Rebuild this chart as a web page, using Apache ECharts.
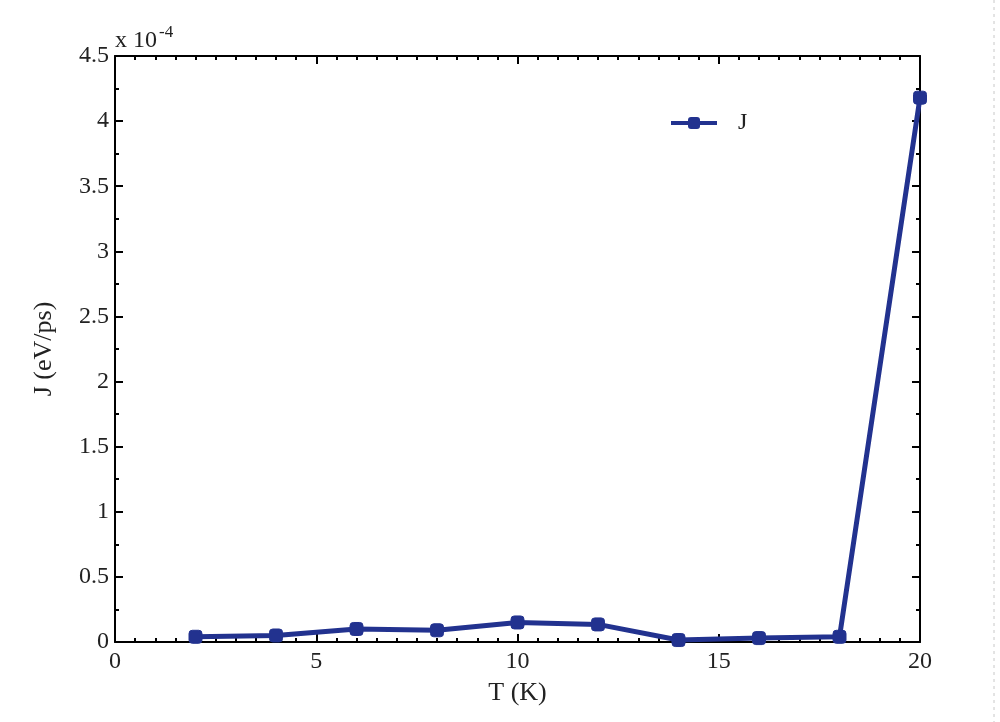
<!DOCTYPE html>
<html><head><meta charset="utf-8">
<script src="https://cdn.jsdelivr.net/npm/echarts@6/dist/echarts.min.js"></script>
<style>html,body{margin:0;padding:0;background:#fff}#c{width:1000px;height:722px}</style>
</head><body><div id="c"></div>
<script>
const temperatures = [2, 4, 6, 8, 10, 12, 14, 16, 18, 20];
const fluxValues = [0.04, 0.05, 0.10, 0.09, 0.15, 0.135, 0.015, 0.03, 0.04, 4.18];
const seriesName = 'J';
const FONT = 'Liberation Serif';
const navy = '#22328f';
const chart = echarts.init(document.getElementById('c'));
const axisLine = {onZero: false, lineStyle: {color: '#000', width: 2}};
const axisTick = {inside: true, length: 8, lineStyle: {color: '#000', width: 2}};
const minorX = {show: true, splitNumber: 10, length: 4, lineStyle: {color: '#000', width: 2}};
const minorY = {show: true, splitNumber: 2, length: 4, lineStyle: {color: '#000', width: 2}};
const labelStyle = {fontFamily: FONT, fontSize: 24, color: '#222'};
const nameStyle = {fontFamily: FONT, fontSize: 26, color: '#222'};
chart.setOption({
  animation: false,
  grid: {left: 115, right: 80, top: 56, bottom: 80},
  legend: {
    data: [seriesName], left: 664, top: 106, itemWidth: 46, itemHeight: 15,
    lineStyle: {width: 4, color: navy},
    textStyle: {fontFamily: FONT, fontSize: 24, color: '#222', padding: [0, 0, 0, 16]}
  },
  xAxis: [
    {type: 'value', min: 0, max: 20, interval: 5,
      name: 'T (K)', nameLocation: 'middle', nameGap: 38, nameTextStyle: nameStyle,
      axisLabel: Object.assign({margin: 8}, labelStyle),
      axisLine: axisLine, axisTick: axisTick, minorTick: minorX, splitLine: {show: false}},
    {type: 'value', position: 'top', min: 0, max: 20, interval: 5,
      axisLine: axisLine, axisTick: axisTick, minorTick: minorX, splitLine: {show: false},
      axisLabel: {show: false}}
  ],
  yAxis: [
    {type: 'value', min: 0, max: 4.5, interval: 0.5,
      name: 'J (eV/ps)', nameLocation: 'middle', nameGap: 58, nameRotate: 90, nameTextStyle: nameStyle,
      axisLabel: Object.assign({margin: 6}, labelStyle),
      axisLine: axisLine, axisTick: axisTick, minorTick: minorY, splitLine: {show: false}},
    {type: 'value', position: 'right', min: 0, max: 4.5, interval: 0.5,
      axisLine: axisLine, axisTick: axisTick, minorTick: minorY, splitLine: {show: false},
      axisLabel: {show: false}}
  ],
  series: [{
    name: seriesName, type: 'line', xAxisIndex: 0, yAxisIndex: 0,
    data: temperatures.map((t, i) => [t, fluxValues[i]]),
    symbol: 'roundRect', symbolSize: 13, showSymbol: true,
    lineStyle: {color: navy, width: 5},
    itemStyle: {color: navy, borderColor: navy}
  }],
  graphic: [
    {type: 'text', left: 115, top: 24, style: {
      text: '{a|x 10}{b|-4}', fill: '#222',
      rich: {a: {fontFamily: FONT, fontSize: 24}, b: {fontFamily: FONT, fontSize: 17, verticalAlign: 'top', padding: [0, 0, 16, 2]}}
    }},
    {type: 'line', shape: {x1: 994, y1: 0, x2: 994, y2: 722},
      style: {stroke: '#c8c8c8', lineWidth: 1, lineDash: [3, 4]}}
  ]
});
</script></body></html>
